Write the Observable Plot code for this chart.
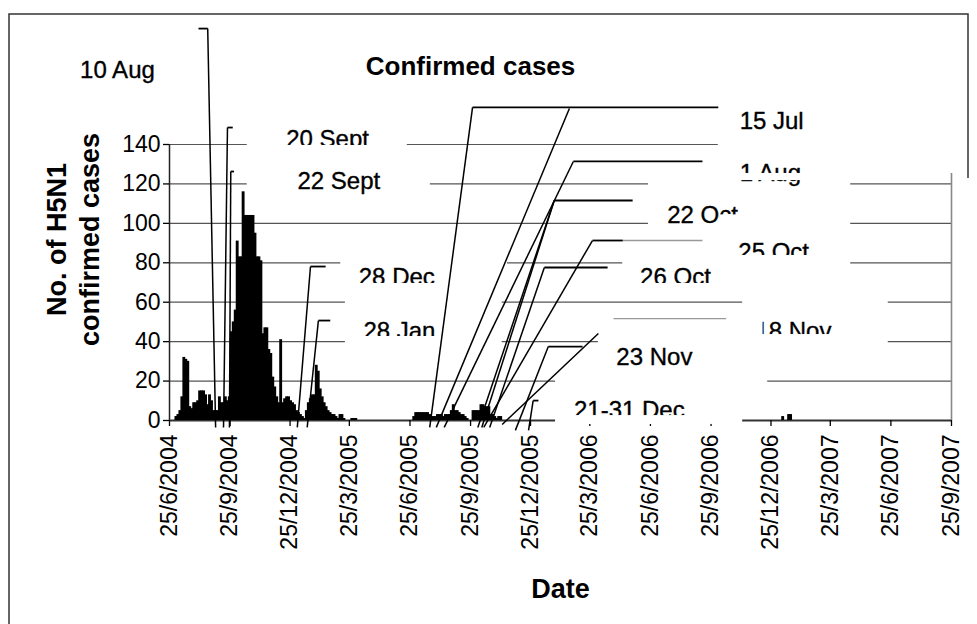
<!DOCTYPE html>
<html>
<head>
<meta charset="utf-8">
<script src="https://cdn.jsdelivr.net/npm/d3@7"></script>
<script src="https://cdn.jsdelivr.net/npm/@observablehq/plot@0.6"></script>
<style>
html, body { margin: 0; padding: 0; background: #fff; }
#chart { width: 977px; height: 624px; overflow: hidden; }
</style>
</head>
<body>
<div id="chart"></div>
<script>
// ---------------- data ----------------
const xStart = "2004-06-25";
const xEnd = "2007-09-25";
const xTickDates = ["2004-06-25","2004-09-25","2004-12-25","2005-03-25","2005-06-25","2005-09-25",
  "2005-12-25","2006-03-25","2006-06-25","2006-09-25","2006-12-25","2007-03-25","2007-06-25","2007-09-25"];
const yTicks = [0, 20, 40, 60, 80, 100, 120, 140];
const binDays = 3;

const wave1Start = "2004-07-04";
const wave1Cases = [2,3,5,12,32,31,30,7,6,9,9,10,15,15,15,13,8,13,10,5,5,5,12,9,9,12,10,12,
  45,50,56,91,83,83,116,104,104,104,104,104,95,83,83,81,44,47,47,36,34,22,17,12,9,41,9,11,12,12,
  10,9,8,5,4,3,2,1,5,9,11,13,13,28,25,16,12,9,7,5,4,3,3,2,1,3,3,1,0,0,0,1,1,1];
const wave2Start = "2005-06-30";
const wave2Cases = [2,4,4,4,4,4,4,4,3,2,2,2,3,3,3,2,3,3,3,5,8,5,5,4,3,3,2,1,0,0,5,5,5,5,8,8,7,7,7,3,3,2,1,2,2];
const wave3Start = "2007-01-11";
const wave3Cases = [2,0,0,3,3];

// callout labels
const labelText     = ["10 Aug","20 Sept","22 Sept","28 Dec","28 Jan","15 Jul","1 Aug","22 Oct","25 Oct","26 Oct","18 Nov","23 Nov","21-31 Dec"];
const labelDate     = ["2004-04-07","2005-02-20","2005-03-09","2005-06-05","2005-06-09","2006-12-26","2006-12-24","2006-09-12","2006-12-29","2006-08-02","2007-01-28","2006-07-01","2006-05-24"];
const labelBaseline = [173.5, 138.5, 117.2, 68.5, 41.1, 148.1, 121.7, 100.4, 81.2, 68.5, 41.1, 27.9, 1.5];

// callout leader lines: base point near the axis, elbow, end of the short horizontal
const leaderBaseDate   = ["2004-09-03","2004-09-15","2004-09-24","2005-01-05","2005-01-20","2005-07-25","2005-08-04","2005-08-16","2005-10-06","2005-10-12","2005-10-15","2005-10-24","2005-11-12","2005-12-02","2005-12-22"];
const leaderBaseValue  = [-3.5,-3.5,-3.5,-3.5,-3.5,-3.5,-3.5,-3.5,-3.5,-3.5,-3.5,-3.5,-2,-5,-5];
const leaderElbowDate  = ["2004-08-22","2004-09-21","2004-09-26","2005-01-25","2005-02-06","2005-09-28","2006-02-22","2006-02-28","2006-01-30","2006-01-30","2006-03-29","2006-01-15","2006-04-07","2006-01-21","2005-12-29"];
const leaderElbowValue = [198.8,148.6,126.3,78.1,50.7,158.8,158.3,131.4,111.6,111.6,91.3,77.6,44.1,37.5,10.1];
const leaderEndDate    = ["2004-08-08","2004-09-29","2004-10-01","2005-02-17","2005-02-24","2006-10-06","2006-02-22","2006-09-12","2006-05-29","2006-01-30","2006-05-14","2006-04-21","2006-04-07","2006-03-14","2006-01-06"];

// faint connector lines of the callouts
const extraLineFrom  = ["2006-05-14","2006-04-30"];
const extraLineTo    = ["2006-09-12","2006-10-18"];
const extraLineValue = [91.3, 51.7];

// white text boxes of the callouts (hide the gridlines behind them)
const boxFrom   = ["2004-10-21","2004-10-21","2005-03-12","2005-03-19","2006-10-06","2006-06-22","2006-05-14","2006-05-11","2006-11-12","2006-04-07","2006-02-01","2006-02-01"];
const boxTo     = ["2005-06-21","2005-07-26","2005-11-20","2005-11-12","2007-10-08","2007-04-25","2007-04-25","2007-04-25","2007-06-21","2006-12-20","2006-12-20","2006-11-12"];
const boxBottom = [138.5, 111.6, 68.5, 37.5, 125.3, 98.4, 79.1, 67.0, 37.5, 24.3, 10.1, -2.0];
const boxTop    = [153.2, 138.5, 85.2, 68.5, 164.9, 123.8, 90.8, 79.1, 65.9, 41.6, 24.3, 10.1];

// parts of the labels cut off by their boxes
const cutFrom   = ["2004-12-10","2005-03-27","2005-04-03","2006-10-24","2006-10-09","2006-11-01","2006-05-29","2006-11-16","2006-11-16","2006-02-16"];
const cutTo     = ["2005-05-03","2005-08-03","2005-08-03","2007-02-22","2006-11-16","2007-02-25","2006-10-09","2007-04-09","2006-12-13","2006-09-01"];
const cutBottom = [134.4, 64.9, 38.0, 121.7, 98.4, 79.1, 64.9, 38.0, 38.0, -2.0];
const cutTop    = [139.5, 69.5, 42.6, 125.3, 104.3, 83.7, 69.5, 43.6, 53.3, 2.5];

const titleText = "Confirmed cases";
const yTitleText = "No. of H5N1\nconfirmed cases";
const xTitleText = "Date";

// ---------------- build ----------------
const parse = d3.utcParse("%Y-%m-%d");
const DAY = 864e5;
const addDays = (d, n) => new Date(d.getTime() + n * DAY);
const x0 = parse(xStart), x1 = parse(xEnd);

const bars = [[wave1Start, wave1Cases], [wave2Start, wave2Cases], [wave3Start, wave3Cases]]
  .flatMap(([s, vals]) => vals.map((v, i) => ({
    x1: addDays(parse(s), i * binDays),
    x2: addDays(parse(s), (i + 1) * binDays),
    cases: v
  })))
  .filter(d => d.cases > 0);

const labels = labelText.map((t, i) => ({text: t, date: parse(labelDate[i]), y: labelBaseline[i]}));
const leaders = leaderBaseDate.map((d, i) => ({
  bx: parse(d), by: leaderBaseValue[i],
  ex: parse(leaderElbowDate[i]), ey: leaderElbowValue[i],
  tx: parse(leaderEndDate[i])
}));
const extras = extraLineFrom.map((d, i) => ({a: parse(d), b: parse(extraLineTo[i]), v: extraLineValue[i]}));
const boxes = boxFrom.map((d, i) => ({a: parse(d), b: parse(boxTo[i]), lo: boxBottom[i], hi: boxTop[i]}));
const cuts = cutFrom.map((d, i) => ({a: parse(d), b: parse(cutTo[i]), lo: cutBottom[i], hi: cutTop[i]}));

const FONT = '"Liberation Sans", Arial, Helvetica, sans-serif';

const chart = Plot.plot({
  width: 977,
  height: 624,
  marginLeft: 169,
  marginRight: 26,
  marginTop: 144,
  marginBottom: 204,
  style: {fontFamily: FONT, fontSize: "23px", color: "#000", background: "#fff", overflow: "visible"},
  x: {type: "utc", domain: [x0, x1]},
  y: {domain: [0, 140]},
  marks: [
    Plot.ruleY(yTicks.filter(v => v > 0), {x1: () => x0, x2: () => x1, stroke: "#555", strokeWidth: 1.2}),
    Plot.ruleX([x1], {y1: () => 0, y2: () => 140, stroke: "#888", strokeWidth: 1.6}),
    Plot.ruleX([x0], {y1: () => 0, y2: () => 140, stroke: "#222", strokeWidth: 1.5}),
    Plot.ruleY([0], {x1: () => x0, x2: () => x1, stroke: "#333", strokeWidth: 1.8}),
    Plot.axisY(yTicks, {tickSize: 6, tickPadding: 3, fontSize: 23, label: null, strokeWidth: 1.3}),
    Plot.axisX(xTickDates.map(parse), {
      tickRotate: -90, tickFormat: d3.utcFormat("%-d/%-m/%Y"),
      tickSize: 6, tickPadding: 8, fontSize: 23, label: null, strokeWidth: 1.3
    }),
    Plot.rect(bars, {x1: "x1", x2: "x2", y1: () => 0, y2: "cases", fill: "#000", insetLeft: -0.45, insetRight: -0.45}),
    Plot.rect(boxes, {x1: "a", x2: "b", y1: "lo", y2: "hi", fill: "#fff"}),
    Plot.text(labels, {x: "date", y: "y", text: "text", fontSize: 24, lineAnchor: "bottom", textAnchor: "middle",
      fill: "#000", stroke: "#000", strokeWidth: 0.35}),
    Plot.rect(cuts, {x1: "a", x2: "b", y1: "lo", y2: "hi", fill: "#fff"}),
    Plot.link(extras, {x1: "a", x2: "b", y1: "v", y2: "v", stroke: "#999", strokeWidth: 1.3}),
    Plot.link(leaders, {x1: "bx", y1: "by", x2: "ex", y2: "ey", stroke: "#000", strokeWidth: 1.5}),
    Plot.link(leaders, {x1: "ex", y1: "ey", x2: "tx", y2: "ey", stroke: "#000", strokeWidth: 1.8}),
    Plot.text([titleText], {text: d => d, frameAnchor: "top-left", dx: 301, dy: -70,
      textAnchor: "middle", lineAnchor: "bottom", fontSize: 26, fontWeight: "bold", fill: "#000"}),
    Plot.text([yTitleText], {text: d => d, frameAnchor: "top-left", dx: -98, dy: 95, rotate: -90,
      textAnchor: "middle", lineAnchor: "middle", lineHeight: 1.22, fontSize: 27, fontWeight: "bold", fill: "#000"}),
    Plot.text([xTitleText], {text: d => d, frameAnchor: "bottom", dy: 177,
      textAnchor: "middle", lineAnchor: "bottom", fontSize: 27, fontWeight: "bold", fill: "#000"})
  ]
});

// outer chart border
d3.select(chart).append("path")
  .attr("d", "M9,624V14H968V178")
  .attr("fill", "none").attr("stroke", "#333").attr("stroke-width", 1.5);

document.getElementById("chart").appendChild(chart);
</script>
</body>
</html>
